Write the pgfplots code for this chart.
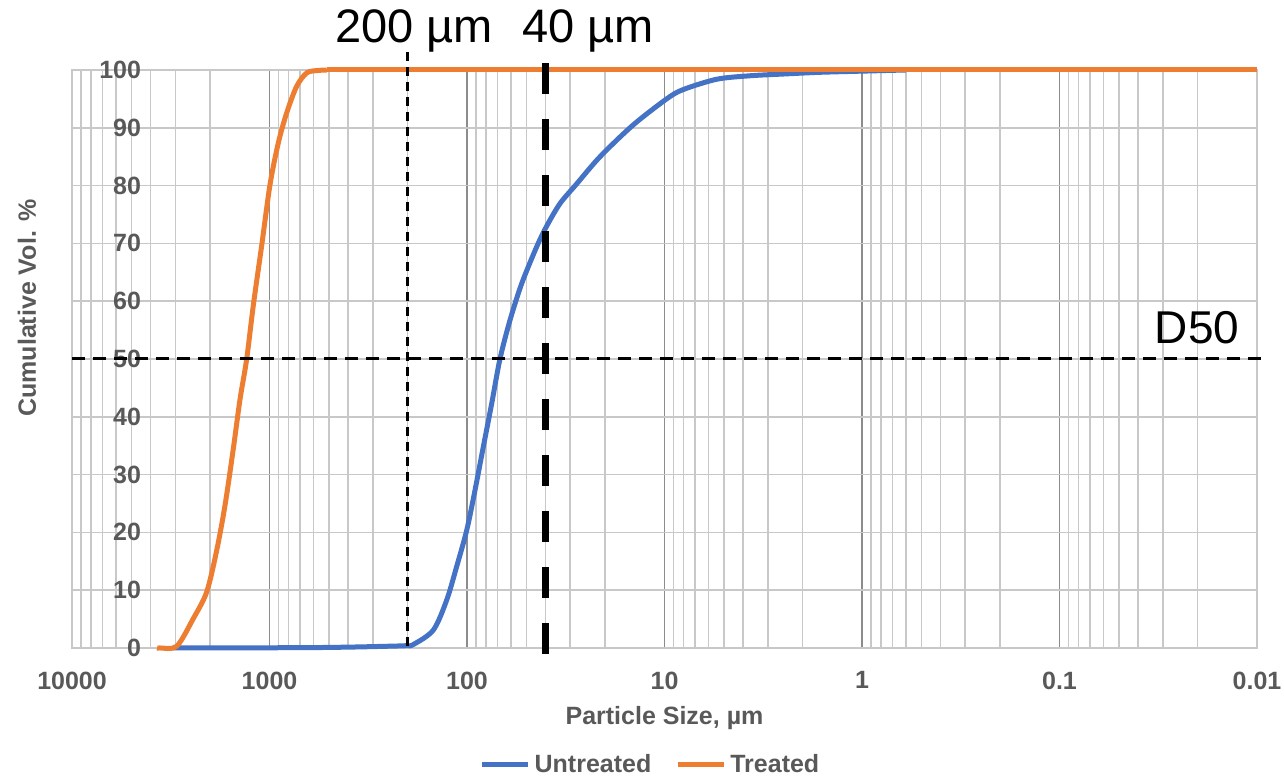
\documentclass[border=0pt]{standalone}
\usepackage{fontspec}
\setmainfont{Liberation Sans}
\usepackage{pgfplots}
\pgfplotsset{compat=1.18}
\definecolor{untreated}{HTML}{4472C4}
\definecolor{treated}{HTML}{ED7D31}
\definecolor{txtgray}{HTML}{595959}
\definecolor{majgrid}{HTML}{8C8C8C}
\definecolor{mingrid}{HTML}{C8C8C8}
\begin{document}
\begin{tikzpicture}
\begin{axis}[
    scale only axis,
    width=592.5pt, height=289pt,
    xmode=log, x dir=reverse,
    xmin=0.01, xmax=10000, ymin=0, ymax=100,
    xtick={10000,1000,100,10,1,0.1,0.01},
    xticklabels={10000,1000,100,10,1,0.1,0.01},
    minor xtick={2000,3000,4000,5000,6000,7000,8000,9000,
                 200,300,400,500,600,700,800,900,
                 20,30,40,50,60,70,80,90,
                 2,3,4,5,6,7,8,9,
                 0.2,0.3,0.4,0.5,0.6,0.7,0.8,0.9,
                 0.02,0.03,0.04,0.05,0.06,0.07,0.08,0.09},
    ytick={0,10,20,30,40,50,60,70,80,90,100},
    yticklabels={0,10,20,30,40,50,60,70,80,90,100},
    grid=both,
    major tick length=0pt, minor tick length=0pt,
    major x grid style={majgrid, line width=0.8pt},
    minor x grid style={mingrid, line width=0.8pt},
    y grid style={mingrid, line width=0.8pt},
    axis line style={mingrid, line width=0.8pt},
    tick label style={font=\fontsize{12.5}{14}\selectfont\bfseries, text=txtgray},
    xticklabel style={yshift=-8.3pt},
    yticklabel style={xshift=38pt},
    xlabel={Particle Size, µm},
    ylabel={Cumulative Vol. \%},
    label style={font=\fontsize{12.5}{14}\selectfont\bfseries, text=txtgray},
    xlabel style={at={(axis description cs:0.5,-0.121)}, anchor=center},
    ylabel style={at={(axis description cs:-0.038,0.588)}, anchor=center},
    legend style={at={(axis description cs:0.489,-0.202)}, anchor=center,
        draw=none, fill=none, legend columns=2,
        font=\fontsize{12.5}{14}\selectfont\bfseries, text=txtgray,
        /tikz/every even column/.append style={column sep=10pt}},
    legend image code/.code={\draw[#1, line width=2.5pt] (0pt,0pt) -- (23pt,0pt);},
    clip=false,
]
% Untreated
\addplot[untreated, line width=2.5pt, line join=round, smooth, tension=0.5] coordinates {
    (3081,0) (701,0.05) (391,0.15) (250,0.3) (202,0.4) (187,0.6) (148.1,3.1)
    (126.7,8.3) (112.8,14.1) (100.3,20.4) (91.1,27.3) (82.7,34.8) (75.0,42.3)
    (68.1,50) (60.6,56.7) (52.8,63.1) (44.4,69.4) (39.5,73.0) (33.8,76.9)
    (28.0,80.2) (21.2,85.0) (14.4,90.5) (9.75,95.0) (8.06,96.6) (5.44,98.4)
    (3.69,99.0) (2.51,99.3) (1.63,99.6) (1.0,99.8) (0.6,100)
};
\addlegendentry{Untreated}
\addplot[untreated, line width=2.5pt, forget plot] coordinates {(0.6,100) (0.01,100)};
% Treated
\addplot[treated, line width=2.5pt, line join=round, smooth, tension=0.5] coordinates {
    (3712,0) (3585,0) (2951,0.3) (2431,5.1) (2080,9.7) (1851,16.9) (1680,24.7)
    (1525,34.5) (1411,43.0) (1305,50) (1208,59.3) (1095,69.7) (994,80.2)
    (902.4,87.4) (818.3,92.6) (728.3,97.2) (648,99.5) (575,99.9) (513,100)
};
\addlegendentry{Treated}
\addplot[treated, line width=2.5pt, forget plot] coordinates {(513,100) (0.01,100)};
% reference lines
\addplot[black, line width=1.5pt, dash pattern=on 4.5pt off 3pt, forget plot]
    coordinates {(200,103.1) (200,0)};
\addplot[black, line width=3.5pt, dash pattern=on 15.5pt off 12.5pt, forget plot]
    coordinates {(40,101.2) (40,-1.2)};
\addplot[black, line width=1.5pt, dash pattern=on 6.5pt off 4pt, forget plot]
    coordinates {(10000,50) (0.0094,50)};
\node[anchor=base, font=\fontsize{23.5}{28}\selectfont] at (axis cs:185.5,104.7) {200 µm};
\node[anchor=base, font=\fontsize{23.5}{28}\selectfont] at (axis cs:24.3,104.7) {40 µm};
\node[anchor=base, font=\fontsize{23}{28}\selectfont] at (axis cs:0.0201,52.6) {D50};
\coordinate (bbA) at (axis description cs:-0.0608,-0.2266);
\coordinate (bbB) at (axis description cs:1.0228,1.1211);
\end{axis}
\pgfresetboundingbox
\path (bbA) rectangle (bbB);
\end{tikzpicture}
\end{document}
